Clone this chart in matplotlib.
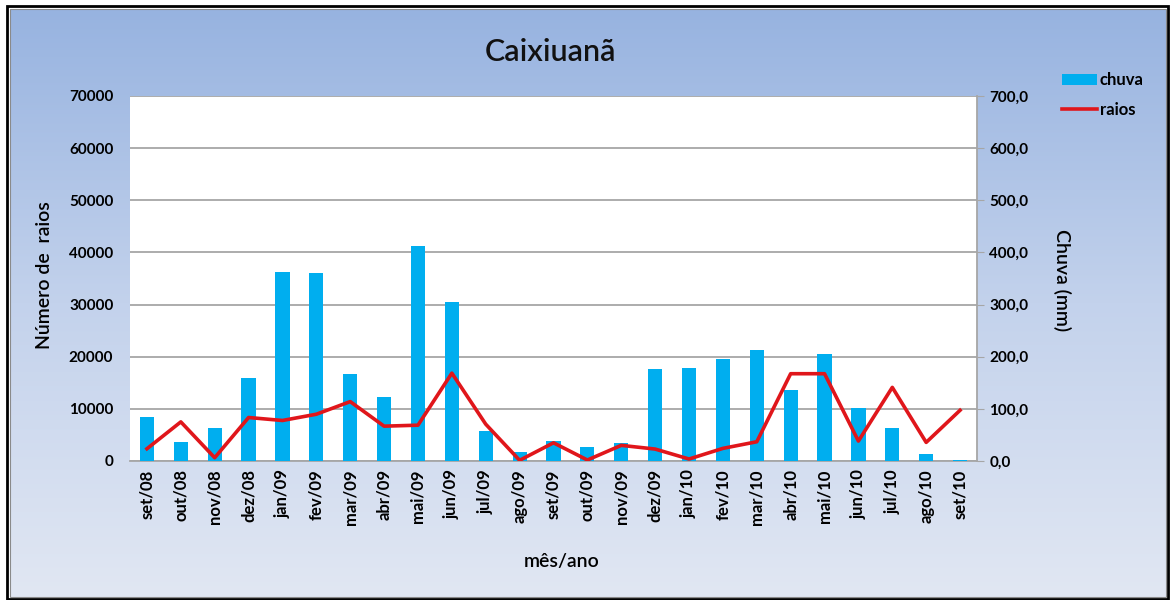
import numpy as np
import matplotlib
matplotlib.use("Agg")
import matplotlib.pyplot as plt
from matplotlib.ticker import FuncFormatter, MultipleLocator
from matplotlib.patches import Rectangle
from matplotlib.colors import LinearSegmentedColormap

plt.rcParams['font.family'] = ['Lato', 'DejaVu Sans']

meses = ["set/08", "out/08", "nov/08", "dez/08", "jan/09", "fev/09", "mar/09", "abr/09",
         "mai/09", "jun/09", "jul/09", "ago/09", "set/09", "out/09", "nov/09", "dez/09",
         "jan/10", "fev/10", "mar/10", "abr/10", "mai/10", "jun/10", "jul/10", "ago/10", "set/10"]
chuva_mm = [84, 37, 64, 159, 363, 361, 167, 122, 413, 305, 58, 17, 39, 27, 35, 176,
            179, 195, 212, 137, 206, 102, 64, 13, 2.5]
raios = [2350, 7500, 630, 8340, 7770, 8970, 11390, 6680, 6870, 16850, 7060, 130, 3490, 190,
         3000, 2290, 380, 2420, 3690, 16740, 16740, 3820, 14120, 3570, 9730]

W, H = 1170, 600
fig = plt.figure(figsize=(W / 100, H / 100), dpi=100)

# background gradient
bg = fig.add_axes([0, 0, 1, 1], zorder=-10)
bg.set_xlim(0, W); bg.set_ylim(H, 0); bg.axis('off')
cmap = LinearSegmentedColormap.from_list("g", ["#97b3e0", "#c3d2ec", "#e1e7f3"])
grad = np.linspace(0, 1, 256).reshape(-1, 1)
bg.imshow(grad, cmap=cmap, extent=[10, 1166, 597, 9], aspect='auto')
bg.add_patch(Rectangle((7, 6), 1161, 593, fill=False, edgecolor='black', lw=2))
bg.add_patch(Rectangle((10, 9), 1156, 588, fill=False, edgecolor='#8a8a8a', lw=0.8))

ax2 = fig.add_axes([130 / W, 1 - 461 / H, (977 - 130) / W, (461 - 96) / H])
ax = ax2.twinx()
ax.yaxis.tick_left()
ax.yaxis.set_label_position('left')
ax2.yaxis.tick_right()
ax2.yaxis.set_label_position('right')
ax.set_zorder(ax2.get_zorder() + 1)
ax.patch.set_visible(False)

x = np.arange(len(meses))
bars = ax2.bar(x, chuva_mm, width=0.42, color='#00aeef', zorder=3, label='chuva')
line, = ax.plot(x, raios, color='#e0161b', lw=2.6, zorder=5, label='raios')

ax2.set_ylim(0, 700)
ax.set_ylim(0, 70000)
ax2.set_xlim(-0.5, len(meses) - 0.5)
ax2.yaxis.set_major_locator(MultipleLocator(100))
ax.yaxis.set_major_locator(MultipleLocator(10000))
ax2.yaxis.set_major_formatter(FuncFormatter(lambda v, p: f"{v:.1f}".replace('.', ',')))
ax.yaxis.set_major_formatter(FuncFormatter(lambda v, p: f"{int(v)}"))
ax2.grid(axis='y', color='#a6a6a6', lw=1.3, zorder=0)
ax2.set_axisbelow(True)

ax2.set_xticks(x)
ax2.set_xticklabels(meses, rotation=90, fontsize=12, fontweight='bold')
ax2.tick_params(axis='x', length=0, pad=6)
ax2.tick_params(axis='y', labelsize=11, length=5, color='#a6a6a6', pad=4)
for t in ax2.get_yticklabels():
    t.set_fontweight('bold')
ax.tick_params(axis='y', labelsize=11, length=0, pad=12)
for t in ax.get_yticklabels():
    t.set_fontweight('bold')

for a in (ax, ax2):
    for s in ('left', 'top', 'right', 'bottom'):
        a.spines[s].set_visible(False)
ax2.spines['right'].set_visible(True)
ax2.spines['right'].set_color('#a6a6a6')
ax2.spines['right'].set_linewidth(1.3)
ax2.spines['bottom'].set_visible(True)
ax2.spines['bottom'].set_color('#a6a6a6')
ax2.spines['bottom'].set_linewidth(1.3)

fig.text(550 / W, 1 - 52 / H, "Caixiuanã", fontsize=22, fontweight='semibold',
         ha='center', va='center', color='#111111')
fig.text(45 / W, 1 - 275 / H, "Número de  raios", fontsize=14, fontweight='semibold',
         rotation=90, ha='center', va='center')
fig.text(1062 / W, 1 - 280 / H, "Chuva (mm)", fontsize=14, fontweight='semibold',
         rotation=-90, ha='center', va='center')
fig.text(562 / W, 1 - 561 / H, "mês/ano", fontsize=14, fontweight='semibold',
         ha='center', va='center')

leg = fig.legend([bars, line], ['chuva', 'raios'], loc='upper left',
                 bbox_to_anchor=(1054 / W, 1 - 64 / H), frameon=False,
                 prop={'size': 12, 'weight': 'bold'}, handlelength=2.1,
                 handleheight=0.6, handletextpad=0.15, labelspacing=0.8, borderpad=0)

fig.savefig("out.png", dpi=100)
